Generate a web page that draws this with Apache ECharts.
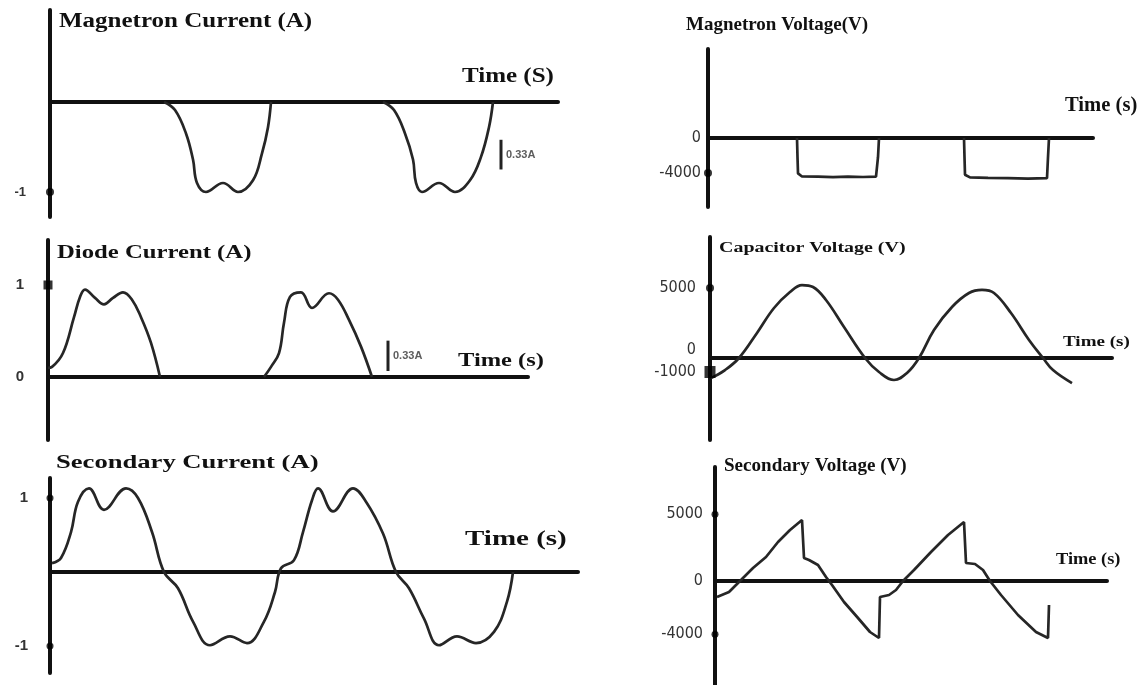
<!DOCTYPE html>
<html>
<head>
<meta charset="utf-8">
<script src="https://cdn.jsdelivr.net/npm/echarts@6/dist/echarts.min.js"></script>
<style>html,body{margin:0;padding:0;background:#fff}#c{width:1145px;height:685px}</style>
</head>
<body>
<div id="c"></div>
<script>
// ---------- DATA (time in arbitrary units, values in A or V) ----------
// Magnetron current (A)
const magCurrentPulse1 = [[11.4,0],[12.5,-0.09],[13.6,-0.35],[14.3,-0.64],[14.7,-0.9],[15.6,-1.0],[17.3,-0.9],[18.8,-1.0],[20.3,-0.87],[21.2,-0.57],[21.8,-0.28],[22.1,0]];
const magCurrentPulse2 = [[33.3,0],[34.4,-0.09],[35.5,-0.35],[36.3,-0.64],[36.6,-0.9],[37.2,-1.0],[38.9,-0.9],[40.5,-1.0],[42.0,-0.87],[43.1,-0.61],[43.9,-0.28],[44.3,0]];
const magCurrentTicks = [-1];
const magCurrentTickLabels = ['-1'];

// Diode current (A)
const diodeCurrentPulse1 = [[0,0.10],[0.4,0.11],[1.5,0.26],[2.6,0.65],[3.2,0.87],[3.7,0.95],[4.7,0.86],[5.6,0.79],[6.5,0.86],[7.5,0.92],[8.4,0.84],[9.3,0.65],[10.3,0.37],[11.2,0]];
const diodeCurrentPulse2 = [[21.6,0],[22.3,0.11],[23.1,0.26],[23.6,0.59],[24.2,0.87],[25.3,0.92],[26.4,0.75],[28.1,0.91],[29.0,0.84],[30.1,0.62],[31.3,0.33],[32.4,0]];
const diodeCurrentTicks = [1, 0];
const diodeCurrentTickLabels = ['1', '0'];

// Secondary current (A)
const secondaryCurrent = [[0.2,0.12],[1.1,0.19],[2.1,0.54],[2.8,0.95],[3.9,1.13],[5.4,0.84],[7.6,1.13],[8.8,1.0],[10.2,0.54],[11.4,0],[12.8,-0.22],[14.3,-0.67],[16.0,-0.99],[18.0,-0.87],[19.7,-0.96],[21.4,-0.67],[22.5,-0.27],[23.1,0.05],[24.4,0.16],[25.3,0.54],[26.2,0.97],[26.8,1.13],[28.3,0.82],[30.3,1.13],[31.6,0.95],[33.3,0.52],[34.6,0],[35.9,-0.22],[37.4,-0.63],[38.9,-0.99],[40.7,-0.87],[42.6,-0.96],[44.4,-0.81],[45.7,-0.40],[46.3,0]];
const secondaryCurrentTicks = [1, -1];
const secondaryCurrentTickLabels = ['1', '-1'];

// Magnetron voltage (V)
const magVoltagePulse1 = [[8.9,0],[8.95,-2200],[9.0,-4050],[9.4,-4400],[11,-4420],[12.5,-4470],[14,-4420],[15.5,-4460],[16.8,-4420],[17.0,-2200],[17.1,0]];
const magVoltagePulse2 = [[25.6,0],[25.65,-2200],[25.7,-4200],[26.2,-4500],[28,-4560],[30,-4600],[32,-4650],[33.9,-4600],[34.0,-2200],[34.1,0]];
const magVoltageTicks = [0, -4000];
const magVoltageTickLabels = ['0', '-4000'];

// Capacitor voltage (V)
const capacitorVoltage = [[0.1,-1430],[1.5,-860],[2.9,0],[4.7,1790],[6.4,3570],[8.0,4710],[9.2,5210],[10.3,5070],[11.6,4140],[13.4,2210],[15.5,0],[16.9,-1000],[18.4,-1570],[19.7,-1070],[20.9,0],[22.4,2000],[24.2,3640],[25.9,4640],[27.2,4860],[28.4,4640],[30.1,3210],[31.9,1290],[33.3,0],[34.3,-860],[36.2,-1790]];
const capacitorVoltageTicks = [5000, 0, -1000];
const capacitorVoltageTickLabels = ['5000', '0', '-1000'];

// Secondary voltage (V)
const secondaryVoltage = [[0.2,-1200],[1.4,-825],[2.4,-75],[3.8,975],[5.1,1800],[6.3,2925],[7.5,3825],[8.7,4575],[8.9,1725],[9.4,1575],[10.3,1200],[11.1,300],[11.7,-300],[12.9,-1575],[14.3,-2775],[15.5,-3825],[16.4,-4275],[16.5,-1200],[17.4,-1050],[18.1,-675],[18.8,0],[19.9,825],[21.6,2175],[23.3,3450],[24.9,4425],[25.1,1350],[26.0,1275],[26.8,825],[27.5,0],[28.6,-1050],[30.3,-2550],[32.1,-3825],[33.3,-4275],[33.4,-1800]];
const secondaryVoltageTicks = [5000, 0, -4000];
const secondaryVoltageTickLabels = ['5000', '0', '-4000'];

// Scale-bar annotations (0.33 A)
const scaleBar1 = [[45.1,-0.42],[45.1,-0.75]];
const scaleBar2 = [[34.0,0.065],[34.0,0.395]];

// ---------- LAYOUT ----------
const boldSans = '"Liberation Sans", Arial, sans-serif';
const narrowSans = '"Liberation Sans Narrow", "DejaVu Sans Condensed", "Arial Narrow", sans-serif';
const serif = '"Liberation Serif", "Times New Roman", serif';

const panels = [
  {grid:{left:50,top:10,width:508,height:207}, xMax:50.8, yMin:-1.278, yMax:1.022,
   ticks:magCurrentTicks, labels:magCurrentTickLabels, font:boldSans, weight:'bold', size:13, margin:24,
   markers:[{v:-1,symbol:'circle',size:8}], series:[magCurrentPulse1, magCurrentPulse2], smooth:0.4},
  {grid:{left:48,top:240,width:480,height:200}, xMax:48, yMin:-0.685, yMax:1.489,
   ticks:diodeCurrentTicks, labels:diodeCurrentTickLabels, font:boldSans, weight:'bold', size:15, margin:24,
   markers:[{v:1,symbol:'rect',size:[9,9]}], series:[diodeCurrentPulse1, diodeCurrentPulse2], smooth:0.4},
  {grid:{left:50,top:478,width:528,height:195}, xMax:52.8, yMin:-1.365, yMax:1.27,
   ticks:secondaryCurrentTicks, labels:secondaryCurrentTickLabels, font:boldSans, weight:'bold', size:15, margin:22,
   markers:[{v:1,symbol:'circle',size:7},{v:-1,symbol:'circle',size:7}], series:[secondaryCurrent], smooth:0.4},
  {grid:{left:708,top:49,width:385,height:158}, xMax:38.5, yMin:-7890, yMax:10170,
   ticks:magVoltageTicks, labels:magVoltageTickLabels, font:narrowSans, weight:'normal', size:16, margin:7,
   markers:[{v:-4000,symbol:'circle',size:8}], series:[magVoltagePulse1, magVoltagePulse2], smooth:false},
  {grid:{left:710,top:237,width:402,height:203}, xMax:40.2, yMin:-5855, yMax:8640,
   ticks:capacitorVoltageTicks, labels:capacitorVoltageTickLabels, font:narrowSans, weight:'normal', size:16, margin:14,
   raise:0, markers:[{v:5000,symbol:'circle',size:8},{v:-1000,symbol:'rect',size:[11,12]}], series:[capacitorVoltage], smooth:0.4},
  {grid:{left:715,top:467,width:392,height:218}, xMax:39.2, yMin:-7800, yMax:8550,
   ticks:secondaryVoltageTicks, labels:secondaryVoltageTickLabels, font:narrowSans, weight:'normal', size:16, margin:12,
   markers:[{v:5000,symbol:'circle',size:7},{v:-4000,symbol:'circle',size:7}], series:[secondaryVoltage], smooth:false}
];

const texts = [
  {x:59,  y:21.5, t:'Magnetron Current (A)', s:20, sx:1.25},
  {x:462, y:77,   t:'Time (S)',              s:20, sx:1.25},
  {x:57,  y:253,  t:'Diode Current (A)',     s:19, sx:1.3},
  {x:458, y:361,  t:'Time (s)',              s:18, sx:1.36},
  {x:56,  y:463,  t:'Secondary Current (A)', s:19, sx:1.4},
  {x:465, y:540,  t:'Time (s)',              s:20, sx:1.45},
  {x:686, y:25,   t:'Magnetron Voltage(V)',  s:19, sx:1.0},
  {x:1065,y:106,  t:'Time (s)',              s:20, sx:1.03},
  {x:719, y:248,  t:'Capacitor Voltage (V)', s:15, sx:1.33},
  {x:1063,y:342,  t:'Time (s)',              s:15, sx:1.27},
  {x:724, y:466,  t:'Secondary Voltage (V)', s:18, sx:1.06},
  {x:1056,y:560,  t:'Time (s)',              s:17, sx:1.08}
];

const AXIS = '#111', CURVE = '#262626';
const grids = [], xAxes = [], yAxes = [], series = [];
panels.forEach((p, i) => {
  grids.push(Object.assign({containLabel:false}, p.grid));
  xAxes.push({type:'value', gridIndex:i, min:0, max:p.xMax,
    axisLine:{show:true, onZero:true, lineStyle:{color:AXIS, width:4}},
    axisTick:{show:false}, axisLabel:{show:false}, splitLine:{show:false}});
  const labelStyle = {fontFamily:p.font, fontWeight:p.weight, fontSize:p.size, color:'#333'};
  yAxes.push({type:'value', gridIndex:i, min:p.yMin, max:p.yMax,
    axisLine:{show:true, onZero:false, lineStyle:{color:AXIS, width:4}},
    axisTick:{show:false}, splitLine:{show:false},
    axisLabel:Object.assign({show:true, customValues:p.ticks, margin:p.margin, hideOverlap:false,
      showMinLabel:true, showMaxLabel:true,
      rich:{up:Object.assign({padding:[0,0,16,0]}, labelStyle)},
      formatter:(v) => {
        const k = p.ticks.indexOf(v);
        if (k < 0) return '';
        return (p.raise === v) ? '{up|' + p.labels[k] + '}' : p.labels[k];
      }}, labelStyle)});
  p.series.forEach(d => series.push({type:'line', xAxisIndex:i, yAxisIndex:i, data:d,
    showSymbol:false, smooth:p.smooth, clip:false, silent:true,
    lineStyle:{color:CURVE, width:2.7}, z:3}));
  series.push({type:'scatter', xAxisIndex:i, yAxisIndex:i, silent:true, clip:false, z:5,
    data:p.markers.map(m => ({value:[0, m.v], symbol:m.symbol, symbolSize:m.size})),
    itemStyle:{color:'#000'}});
});

// scale bars (0.33 A)
[[0, scaleBar1], [1, scaleBar2]].forEach(([gi, bar]) => {
  series.push({type:'line', xAxisIndex:gi, yAxisIndex:gi, data:bar, showSymbol:false, clip:false, silent:true,
    lineStyle:{color:'#222', width:3}, z:4});
  series.push({type:'scatter', xAxisIndex:gi, yAxisIndex:gi, silent:true, clip:false, symbolSize:0,
    data:[[bar[0][0], (bar[0][1] + bar[1][1]) / 2]],
    label:{show:true, position:'right', distance:5, formatter:'0.33A',
      fontFamily:boldSans, fontWeight:'bold', fontSize:11, color:'#333'}});
});

const graphic = texts.map(t => ({type:'text', x:t.x, y:t.y, scaleX:t.sx, silent:true,
  style:{text:t.t, font:'bold ' + t.s + 'px ' + serif, fill:'#111', align:'left', verticalAlign:'middle'}}));

const chart = echarts.init(document.getElementById('c'), null, {renderer:'canvas'});
chart.setOption({
  backgroundColor:'#fff', animation:false,
  grid:grids, xAxis:xAxes, yAxis:yAxes, series:series, graphic:graphic
});
</script>
</body>
</html>
